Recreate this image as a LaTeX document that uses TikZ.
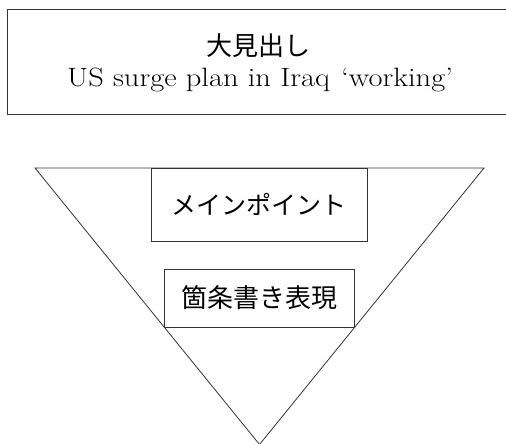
\documentclass[tikz,border=0pt]{standalone}
\usepackage{fontspec}
\newfontfamily\jp{Noto Sans CJK JP}
\begin{document}
\begin{tikzpicture}[x=1pt,y=-1pt,
  line/.style={draw=black!80,line width=0.8pt},
  box/.style={line,fill=white,inner sep=0pt},
  jptext/.style={font=\jp\fontsize{25}{30}\selectfont,inner sep=0pt},
  entext/.style={font=\fontsize{26.5}{30}\selectfont\addfontfeatures{FakeBold=0.6},inner sep=0pt}]
\useasboundingbox (0,0) rectangle (506,444);
% headline frame (right edge runs off the picture)
\node[line,inner sep=0pt,minimum width=503,minimum height=105] (title) at (258.5,61.5) {};
\node[jptext,font=\jp\fontsize{26}{30}\selectfont,anchor=base] (head1) at (258.5,56) {大見出し};
\node[entext,anchor=base] (head2) at (260,87) {\scalebox{1.15}[1]{US surge plan in Iraq\hspace{10pt}‘working’}};
% inverted triangle
\coordinate (tl) at (35,168);
\coordinate (tr) at (484,168);
\coordinate (ap) at (259.5,444.5);
\draw[line] (tl) -- (tr) -- (ap) -- cycle;
% boxes
\node[box,minimum width=216,minimum height=73] (main) at (259,204.5) {};
\node[jptext] at (main.center) {メインポイント};
\node[box,minimum width=190,minimum height=58] (bullet) at (259,298) {};
\node[jptext,font=\jp\fontsize{26}{30}\selectfont] at (bullet.center) {箇条書き表現};
\end{tikzpicture}
\end{document}
